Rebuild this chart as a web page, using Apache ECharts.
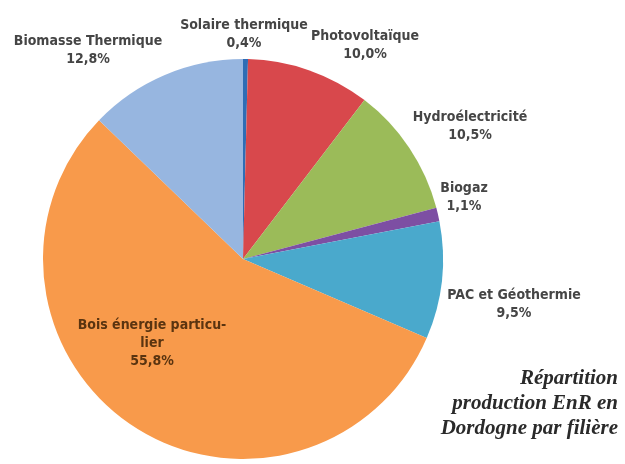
<!DOCTYPE html>
<html>
<head>
<meta charset="utf-8">
<script src="https://cdn.jsdelivr.net/npm/echarts@6/dist/echarts.min.js"></script>
<style>
html, body { margin: 0; padding: 0; background: #ffffff; }
#chart { width: 625px; height: 464px; }
</style>
</head>
<body>
<div id="chart"></div>
<script>
// filières, dans l'ordre horaire depuis midi
var categories = ['Solaire thermique', 'Photovoltaïque', 'Hydroélectricité', 'Biogaz',
	'PAC et Géothermie', 'Bois énergie particulier', 'Biomasse Thermique'];
var values = [0.4, 10.0, 10.5, 1.1, 9.5, 55.8, 12.8];
var colors = ['#2f6db5', '#d8484c', '#9bbb59', '#7d4fa3', '#4aa9cc', '#f89a4b', '#97b6e0'];
var titleLines = ['Répartition', 'production EnR en', 'Dordogne par filière'];

// position des étiquettes (centre du texte)
var labelPos = [[244, 34], [365, 45], [470, 126], [464, 197], [514, 304], [152, 343], [88, 50]];

var myChart = echarts.init(document.getElementById('chart'));

var pieData = [];
for (var i = 0; i < categories.length; i++) {
	pieData.push({
		name: categories[i],
		value: values[i],
		itemStyle: { color: colors[i] },
		label: i === 5 ? { color: '#5a3410' } : {}
	});
}

var option = {
	backgroundColor: '#ffffff',
	animation: false,
	title: {
		text: titleLines.join('\n'),
		left: 613,
		top: 361,
		textAlign: 'right',
		textStyle: {
			fontFamily: 'Liberation Serif',
			fontStyle: 'italic',
			fontWeight: 'bold',
			fontSize: 21,
			lineHeight: 25,
			color: '#2a2a2a'
		}
	},
	series: [{
		type: 'pie',
		center: [243, 259],
		radius: 200,
		startAngle: 90,
		clockwise: true,
		data: pieData,
		itemStyle: { borderWidth: 0 },
		label: {
			show: true,
			position: 'outside',
			overflow: 'none',
			fontFamily: 'Liberation Sans Narrow, DejaVu Sans Condensed, sans-serif',
			fontWeight: 'bold',
			fontSize: 14,
			lineHeight: 18,
			color: '#454545',
			align: 'center',
			formatter: function (p) {
				var name = p.name === 'Bois énergie particulier' ? 'Bois énergie particu-\nlier' : p.name;
				return name + '\n' + p.value.toFixed(1).replace('.', ',') + '%';
			}
		},
		labelLine: { show: false },
		labelLayout: function (params) {
			var pos = labelPos[params.dataIndex];
			return { x: pos[0], y: pos[1], align: 'center', verticalAlign: 'middle' };
		}
	}]
};
myChart.setOption(option);
</script>
</body>
</html>
